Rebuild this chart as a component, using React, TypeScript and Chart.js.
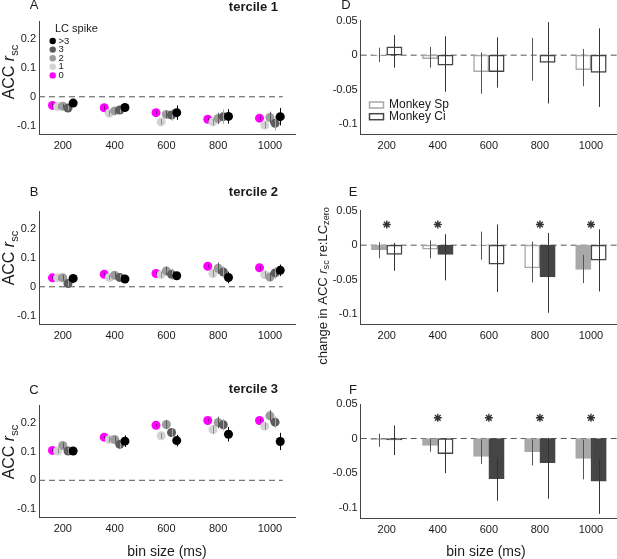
import React, { useEffect, useRef } from "react";
import { Chart, registerables } from "chart.js";
Chart.register(...registerables);

const FONT = "'Liberation Sans', Arial, Helvetica, sans-serif";
const TEXT = "#1a1a1a";
const AXIS = "#444444";

// ---------- shared axes ----------
const binSizes = [200, 400, 600, 800, 1000];
const xTicks = [200, 400, 600, 800, 1000];
const leftYTicks = [-0.1, 0, 0.1, 0.2];
const rightYTicks = [-0.1, -0.05, 0, 0.05];

// ---------- left column (LC spike groups) ----------
const lcLabels = [">3", "3", "2", "1", "0"];
const lcColors = ["#000000", "#5c5c5c", "#9c9c9c", "#d3d3d3", "#ff00ff"];
const lcErrColors = ["#000000", "#a8a8a8", "#5a5a5a", "#8a8a8a", "#9a009a"];
const lcOffsets = [40, 20, 0, -20, -40];

// tercile 1 (values per bin size)
const t1Gt3 = [-0.022, -0.037, -0.055, -0.068, -0.069];
const t1Three = [-0.039, -0.046, -0.063, -0.069, -0.092];
const t1Two = [-0.033, -0.049, -0.061, -0.075, -0.072];
const t1One = [-0.034, -0.057, -0.087, -0.087, -0.098];
const t1Zero = [-0.03, -0.038, -0.055, -0.078, -0.074];
const t1Gt3Err = [0.008, 0.012, 0.025, 0.025, 0.03];
const t1ThreeErr = [0.008, 0.01, 0.02, 0.025, 0.025];
const t1TwoErr = [0.008, 0.01, 0.012, 0.02, 0.02];
const t1OneErr = [0.008, 0.01, 0.01, 0.012, 0.012];
const t1ZeroErr = [0.008, 0.008, 0.008, 0.008, 0.008];

// tercile 2
const t2Gt3 = [0.029, 0.027, 0.038, 0.032, 0.057];
const t2Three = [0.011, 0.032, 0.043, 0.051, 0.048];
const t2Two = [0.031, 0.04, 0.055, 0.064, 0.034];
const t2One = [0.031, 0.032, 0.042, 0.046, 0.042];
const t2Zero = [0.031, 0.043, 0.046, 0.071, 0.066];
const t2Gt3Err = [0.008, 0.008, 0.012, 0.02, 0.02];
const t2ThreeErr = [0.01, 0.01, 0.02, 0.02, 0.02];
const t2TwoErr = [0.01, 0.01, 0.015, 0.02, 0.015];
const t2OneErr = [0.008, 0.008, 0.01, 0.012, 0.012];
const t2ZeroErr = [0.006, 0.006, 0.006, 0.006, 0.006];

// tercile 3
const t3Gt3 = [0.102, 0.136, 0.138, 0.16, 0.135];
const t3Three = [0.102, 0.125, 0.166, 0.193, 0.202];
const t3Two = [0.121, 0.142, 0.194, 0.201, 0.224];
const t3One = [0.102, 0.142, 0.155, 0.176, 0.188];
const t3Zero = [0.104, 0.15, 0.191, 0.208, 0.208];
const t3Gt3Err = [0.008, 0.02, 0.02, 0.025, 0.03];
const t3ThreeErr = [0.01, 0.015, 0.015, 0.02, 0.02];
const t3TwoErr = [0.01, 0.01, 0.015, 0.02, 0.02];
const t3OneErr = [0.008, 0.01, 0.01, 0.015, 0.012];
const t3ZeroErr = [0.006, 0.006, 0.006, 0.006, 0.006];

// ---------- right column (monkeys) ----------
const monkeyLabels = ["Monkey Sp", "Monkey Ci"];
const monkeyColors = ["#a9a9a9", "#454545"];
const monkeyErrColors = ["#555555", "#333333"];
const monkeyOffsets = [-30, 30];
const starLevel = 0.03;

// D
const spD = [0.0015, -0.005, -0.024, 0.0, -0.021];
const spDLo = [-0.01, -0.018, -0.056, -0.037, -0.045];
const spDHi = [0.011, 0.012, 0.004, 0.025, 0.009];
const ciD = [0.012, -0.0145, -0.024, -0.0105, -0.025];
const ciDLo = [-0.018, -0.053, -0.047, -0.07, -0.075];
const ciDHi = [0.029, 0.0275, 0.026, 0.048, 0.039];
const spDFill = [false, false, false, false, false];
const ciDFill = [false, false, false, false, false];
const sigD = [false, false, false, false, false];

// E
const spE = [-0.0067, -0.0058, 0.0014, -0.033, -0.035];
const spELo = [-0.019, -0.019, -0.021, -0.054, -0.055];
const spEHi = [0.0043, 0.0072, 0.0197, 0.0053, -0.014];
const ciE = [-0.0135, -0.0135, -0.0274, -0.046, -0.0216];
const ciELo = [-0.037, -0.051, -0.068, -0.098, -0.067];
const ciEHi = [0.0034, 0.016, 0.03, 0.0178, 0.023];
const spEFill = [true, false, false, false, true];
const ciEFill = [false, true, false, true, false];
const sigE = [true, true, false, true, true];

// F
const spF = [-0.0015, -0.01, -0.026, -0.019, -0.0286];
const spFLo = [-0.012, -0.019, -0.037, -0.039, -0.059];
const spFHi = [0.007, 0.0, -0.0015, -0.0015, -0.0015];
const ciF = [-0.002, -0.022, -0.058, -0.035, -0.0617];
const ciFLo = [-0.024, -0.05, -0.09, -0.087, -0.109];
const ciFHi = [0.019, 0.0, -0.028, 0.001, -0.029];
const spFFill = [true, true, true, true, true];
const ciFFill = [true, false, true, true, true];
const sigF = [false, true, true, true, true];

// zero reference lines (x extents in data units)
const zeroLineLeftX = [108, 1050];
const zeroLineRightX = [98, 1102];

// ---------- helpers ----------
type Seg = { t: string; it?: boolean; sub?: boolean };

function drawRich(ctx: CanvasRenderingContext2D, segs: Seg[], x: number, y: number, size: number, rot: number) {
  ctx.save();
  ctx.translate(x, y);
  ctx.rotate(rot);
  const subSize = size * 0.7;
  const fontFor = (s: Seg) => `${s.it ? "italic " : ""}${s.sub ? subSize : size}px ${FONT}`;
  let total = 0;
  const widths = segs.map((s) => {
    ctx.font = fontFor(s);
    const w = ctx.measureText(s.t).width;
    total += w;
    return w;
  });
  let cx = -total / 2;
  ctx.fillStyle = TEXT;
  ctx.textBaseline = "middle";
  ctx.textAlign = "left";
  segs.forEach((s, i) => {
    ctx.font = fontFor(s);
    ctx.fillText(s.t, cx, s.sub ? size * 0.3 : 0);
    cx += widths[i];
  });
  ctx.restore();
}

function drawText(ctx: CanvasRenderingContext2D, t: string, x: number, y: number, font: string, align: CanvasTextAlign) {
  ctx.save();
  ctx.font = font;
  ctx.fillStyle = TEXT;
  ctx.textAlign = align;
  ctx.textBaseline = "middle";
  ctx.fillText(t, x, y);
  ctx.restore();
}

const errorBarPlugin = {
  id: "errbars",
  afterDatasetDraw(chart: any, args: any) {
    const ds: any = chart.data.datasets[args.index];
    if (!ds.lo || !ds.hi) return;
    const ctx: CanvasRenderingContext2D = chart.ctx;
    const xs = chart.scales.x;
    const ys = chart.scales.y;
    ctx.save();
    ctx.strokeStyle = ds.errColor;
    ctx.lineWidth = 1;
    ds.data.forEach((p: any, i: number) => {
      const px = Math.round(xs.getPixelForValue(p.x)) + 0.5;
      ctx.beginPath();
      ctx.moveTo(px, ys.getPixelForValue(ds.lo[i]));
      ctx.lineTo(px, ys.getPixelForValue(ds.hi[i]));
      ctx.stroke();
    });
    ctx.restore();
  },
};

type Geom = { cx: number; cy: number; cw: number; ch: number; yW: number; xH: number; padTop: number; padRight: number };

function axes(geom: Geom, xmin: number, xmax: number, ymin: number, ymax: number, yTicks: number[]) {
  const tickFont = { family: FONT, size: 11 };
  return {
    x: {
      type: "linear",
      min: xmin,
      max: xmax,
      offset: false,
      grid: { display: false, drawTicks: false },
      border: { display: true, color: AXIS, width: 1 },
      afterBuildTicks: (s: any) => {
        s.ticks = xTicks.map((v) => ({ value: v }));
      },
      ticks: { font: tickFont, color: TEXT, padding: 5, maxRotation: 0, autoSkip: false, callback: (v: any) => String(v) },
      afterFit: (s: any) => {
        s.height = geom.xH;
      },
    },
    y: {
      type: "linear",
      min: ymin,
      max: ymax,
      grid: { display: false, drawTicks: false },
      border: { display: true, color: AXIS, width: 1 },
      afterBuildTicks: (s: any) => {
        s.ticks = yTicks.map((v) => ({ value: v }));
      },
      ticks: { font: tickFont, color: TEXT, padding: 3, autoSkip: false, callback: (v: any) => String(v) },
      afterFit: (s: any) => {
        s.width = geom.yW;
      },
    },
  };
}

function baseOptions(geom: Geom, scales: any) {
  return {
    responsive: false,
    animation: false,
    events: [],
    layout: { autoPadding: false, padding: { left: 0, top: geom.padTop, right: geom.padRight, bottom: 0 } },
    plugins: { legend: { display: false }, tooltip: { enabled: false }, title: { display: false } },
    scales,
  };
}

// ---------- left panels ----------
type LeftDecor = { letter: string; tercile: string; letterY: number; tercileY: number; titleY: number; legend?: boolean; xTitleY?: number };

function leftConfig(groups: number[][], errs: number[][], geom: Geom, decor: LeftDecor) {
  const datasets: any[] = groups.map((vals, gi) => ({
    type: "scatter",
    label: lcLabels[gi],
    data: binSizes.map((b, i) => ({ x: b + lcOffsets[gi], y: vals[i] })),
    backgroundColor: lcColors[gi],
    borderColor: lcColors[gi],
    borderWidth: 0,
    pointRadius: 4.5,
    lo: vals.map((v, i) => v - errs[gi][i]),
    hi: vals.map((v, i) => v + errs[gi][i]),
    errColor: lcErrColors[gi],
    order: gi + 1,
  }));
  datasets.push({
    type: "line",
    label: "zero",
    data: zeroLineLeftX.map((x) => ({ x, y: 0 })),
    borderColor: "#555555",
    borderWidth: 1,
    borderDash: [6, 4],
    pointRadius: 0,
    fill: false,
    order: 20,
  });
  const decorPlugin = {
    id: "decorLeft",
    afterDraw(chart: any) {
      const ctx: CanvasRenderingContext2D = chart.ctx;
      drawText(ctx, decor.letter, 34, decor.letterY, `13px ${FONT}`, "center");
      drawText(ctx, decor.tercile, 278, decor.tercileY, `bold 13px ${FONT}`, "right");
      drawRich(ctx, [{ t: "ACC " }, { t: "r", it: true }, { t: "sc", sub: true }], 10, decor.titleY, 16, -Math.PI / 2);
      if (decor.legend) {
        drawText(ctx, "LC spike", 55, 28.5, `11px ${FONT}`, "left");
        lcLabels.forEach((lab, i) => {
          const y = 41 + i * 8.6;
          ctx.save();
          ctx.fillStyle = lcColors[i];
          ctx.beginPath();
          ctx.arc(52.7, y, 3.2, 0, Math.PI * 2);
          ctx.fill();
          ctx.restore();
          drawText(ctx, lab, 58.5, y, `9.5px ${FONT}`, "left");
        });
      }
      if (decor.xTitleY !== undefined) {
        drawText(ctx, "bin size (ms)", 167, decor.xTitleY, `14px ${FONT}`, "center");
      }
    },
  };
  return {
    type: "scatter",
    data: { datasets },
    options: baseOptions(geom, axes(geom, 108, 1097, -0.13, 0.26, leftYTicks)),
    plugins: [errorBarPlugin, decorPlugin],
  };
}

// ---------- right panels ----------
type RightDecor = { letter: string; letterX: number; letterY: number; legend?: boolean; title?: { x: number; y: number }; xTitleY?: number };

function rightConfig(
  sp: number[], spLo: number[], spHi: number[], spFill: boolean[],
  ci: number[], ciLo: number[], ciHi: number[], ciFill: boolean[],
  sig: boolean[], geom: Geom, decor: RightDecor
) {
  const series = [
    { vals: sp, lo: spLo, hi: spHi, fill: spFill },
    { vals: ci, lo: ciLo, hi: ciHi, fill: ciFill },
  ];
  const datasets: any[] = [
    {
      type: "scatter",
      label: "significant",
      data: binSizes.filter((_, i) => sig[i]).map((b) => ({ x: b, y: starLevel })),
      pointStyle: "star",
      pointRadius: 4,
      borderColor: "#333333",
      backgroundColor: "#333333",
      borderWidth: 1.4,
      order: 0,
    },
  ];
  series.forEach((s, k) => {
    datasets.push({
      type: "bar",
      label: monkeyLabels[k],
      data: binSizes.map((b, i) => ({ x: b + monkeyOffsets[k], y: s.vals[i] })),
      backgroundColor: s.fill.map((f) => (f ? monkeyColors[k] : "#ffffff")),
      borderColor: monkeyColors[k],
      borderWidth: 1.5,
      borderSkipped: false,
      grouped: false,
      barPercentage: 1,
      categoryPercentage: 1,
      lo: s.lo,
      hi: s.hi,
      errColor: monkeyErrColors[k],
      order: 3 - k,
    });
  });
  datasets.push({
    type: "line",
    label: "zero",
    data: zeroLineRightX.map((x) => ({ x, y: 0 })),
    borderColor: "#555555",
    borderWidth: 1,
    borderDash: [6, 4],
    pointRadius: 0,
    fill: false,
    order: 20,
  });
  const decorPlugin = {
    id: "decorRight",
    afterDraw(chart: any) {
      const ctx: CanvasRenderingContext2D = chart.ctx;
      drawText(ctx, decor.letter, decor.letterX, decor.letterY, `13px ${FONT}`, "center");
      if (decor.legend) {
        monkeyLabels.forEach((lab, k) => {
          const y = 105 + k * 11.7;
          ctx.save();
          ctx.strokeStyle = monkeyColors[k];
          ctx.lineWidth = 1.5;
          ctx.strokeRect(64.5, y - 3, 14, 6);
          ctx.restore();
          drawText(ctx, lab, 84, y, `12px ${FONT}`, "left");
        });
      }
      if (decor.title) {
        drawRich(
          ctx,
          [{ t: "change in ACC " }, { t: "r", it: true }, { t: "sc", sub: true }, { t: " re:LC" }, { t: "zero", sub: true }],
          decor.title.x, decor.title.y, 13, -Math.PI / 2
        );
      }
      if (decor.xTitleY !== undefined) {
        drawText(ctx, "bin size (ms)", 181, decor.xTitleY, `14px ${FONT}`, "center");
      }
    },
  };
  return {
    type: "bar",
    data: { datasets },
    options: baseOptions(geom, axes(geom, 98, 1102, -0.115, 0.05, rightYTicks)),
    plugins: [errorBarPlugin, decorPlugin],
  };
}

// ---------- geometry ----------
const gA: Geom = { cx: 0, cy: 0, cw: 305, ch: 185, yW: 39, xH: 50.7, padTop: 21.7, padRight: 10 };
const gB: Geom = { cx: 0, cy: 185, cw: 305, ch: 190, yW: 39, xH: 50.7, padTop: 26.7, padRight: 10 };
const gC: Geom = { cx: 0, cy: 375, cw: 305, ch: 184, yW: 39, xH: 41.3, padTop: 30.5, padRight: 10 };
const gD: Geom = { cx: 305, cy: 0, cw: 312, ch: 185, yW: 55.7, xH: 50.5, padTop: 20.7, padRight: 0 };
const gE: Geom = { cx: 305, cy: 185, cw: 312, ch: 190, yW: 55.7, xH: 50.5, padTop: 25.7, padRight: 0 };
const gF: Geom = { cx: 305, cy: 375, cw: 312, ch: 184, yW: 55.7, xH: 41, padTop: 29, padRight: 0 };

function Panel({ geom, build }: { geom: Geom; build: () => any }) {
  const ref = useRef<HTMLCanvasElement>(null);
  useEffect(() => {
    const chart = new Chart(ref.current as HTMLCanvasElement, build());
    return () => chart.destroy();
  }, []);
  return (
    <canvas
      ref={ref}
      width={geom.cw}
      height={geom.ch}
      style={{ position: "absolute", left: geom.cx, top: geom.cy, width: geom.cw, height: geom.ch }}
    />
  );
}

export default function App() {
  return (
    <div style={{ position: "fixed", left: 0, top: 0, width: 617, height: 559, overflow: "hidden", background: "#ffffff" }}>
      <Panel
        geom={gA}
        build={() =>
          leftConfig(
            [t1Gt3, t1Three, t1Two, t1One, t1Zero],
            [t1Gt3Err, t1ThreeErr, t1TwoErr, t1OneErr, t1ZeroErr],
            gA,
            { letter: "A", tercile: "tercile 1", letterY: 5.5, tercileY: 7, titleY: 72, legend: true }
          )
        }
      />
      <Panel
        geom={gB}
        build={() =>
          leftConfig(
            [t2Gt3, t2Three, t2Two, t2One, t2Zero],
            [t2Gt3Err, t2ThreeErr, t2TwoErr, t2OneErr, t2ZeroErr],
            gB,
            { letter: "B", tercile: "tercile 2", letterY: 7, tercileY: 7, titleY: 73 }
          )
        }
      />
      <Panel
        geom={gC}
        build={() =>
          leftConfig(
            [t3Gt3, t3Three, t3Two, t3One, t3Zero],
            [t3Gt3Err, t3ThreeErr, t3TwoErr, t3OneErr, t3ZeroErr],
            gC,
            { letter: "C", tercile: "tercile 3", letterY: 15, tercileY: 14, titleY: 77, xTitleY: 177 }
          )
        }
      />
      <Panel
        geom={gD}
        build={() =>
          rightConfig(spD, spDLo, spDHi, spDFill, ciD, ciDLo, ciDHi, ciDFill, sigD, gD, {
            letter: "D", letterX: 41, letterY: 5.5, legend: true,
          })
        }
      />
      <Panel
        geom={gE}
        build={() =>
          rightConfig(spE, spELo, spEHi, spEFill, ciE, ciELo, ciEHi, ciEFill, sigE, gE, {
            letter: "E", letterX: 48, letterY: 7, title: { x: 18, y: 101 },
          })
        }
      />
      <Panel
        geom={gF}
        build={() =>
          rightConfig(spF, spFLo, spFHi, spFFill, ciF, ciFLo, ciFHi, ciFFill, sigF, gF, {
            letter: "F", letterX: 48, letterY: 15, xTitleY: 177,
          })
        }
      />
    </div>
  );
}
